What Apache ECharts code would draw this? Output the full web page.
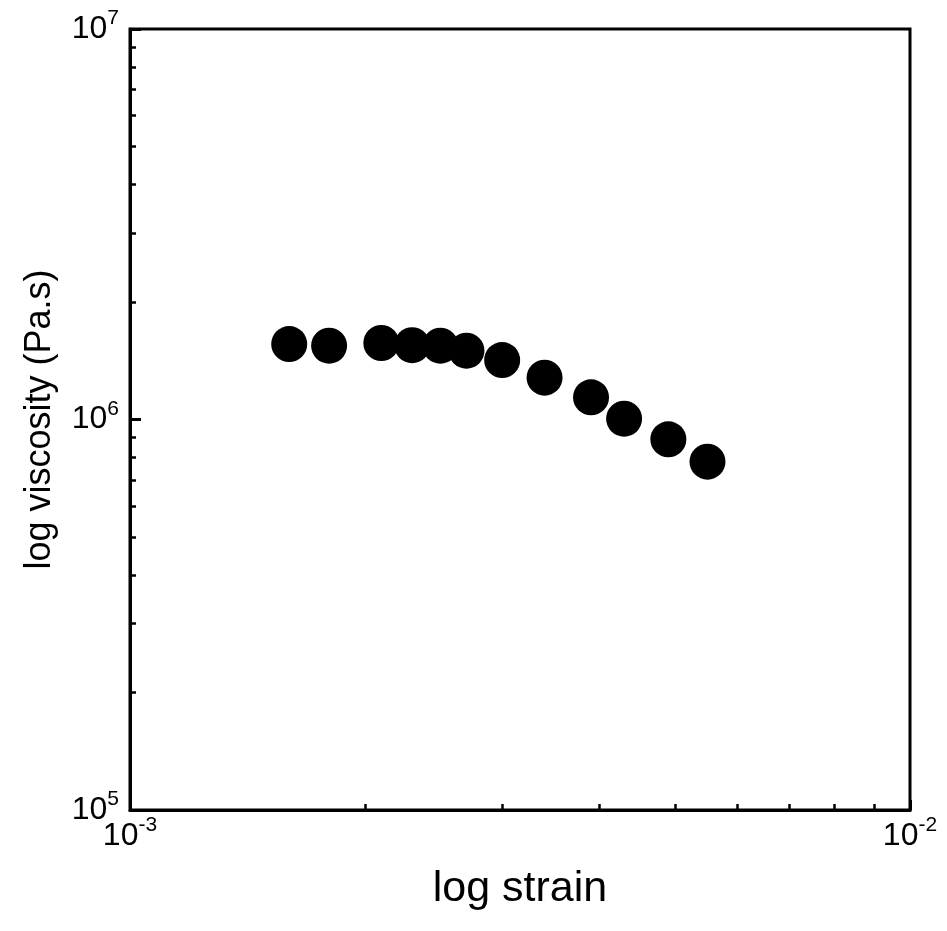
<!DOCTYPE html>
<html>
<head>
<meta charset="utf-8">
<script src="https://cdn.jsdelivr.net/npm/echarts@6/dist/echarts.min.js"></script>
<style>
	html, body { margin: 0; padding: 0; background: #fff; }
	#chart { width: 947px; height: 931px; }
</style>
</head>
<body>
<div id="chart"></div>
<script>
	// strain (x) and viscosity in Pa.s (y)
	let strainList = [0.0016, 0.0018, 0.0021, 0.0023, 0.0025, 0.0027, 0.0030, 0.0034, 0.0039, 0.0043, 0.0049, 0.0055];
	let viscosityList = [1.56e6, 1.545e6, 1.57e6, 1.55e6, 1.545e6, 1.50e6, 1.42e6, 1.28e6, 1.14e6, 1.005e6, 8.9e5, 7.8e5];

	let xMajorTicks = [1e-3, 1e-2];
	let xMinorTicks = [2e-3, 3e-3, 4e-3, 5e-3, 6e-3, 7e-3, 8e-3, 9e-3];
	let yMajorTicks = [1e5, 1e6, 1e7];
	let yMinorTicks = [2e5, 3e5, 4e5, 5e5, 6e5, 7e5, 8e5, 9e5, 2e6, 3e6, 4e6, 5e6, 6e6, 7e6, 8e6, 9e6];

	let points = strainList.map((x, i) => [x, viscosityList[i]]);

	let font = "'Liberation Sans', Arial, Helvetica, sans-serif";

	function powLabel(v) {
		let e = Math.round(Math.log10(v));
		return '{b|10}{s|' + e + '}';
	}
	let richPow = {
		b: { fontSize: 32, lineHeight: 42, color: '#000', fontFamily: font },
		s: { fontSize: 21, lineHeight: 20, verticalAlign: 'top', color: '#000', fontFamily: font }
	};

	let chart = echarts.init(document.getElementById('chart'));
	let option = {
		animation: false,
		backgroundColor: '#fff',
		grid: {
			left: 130,
			right: 37,
			top: 29,
			bottom: 121,
			show: true,
			borderColor: '#000',
			borderWidth: 3
		},
		xAxis: [{
			type: 'log',
			logBase: 10,
			min: 1e-3,
			max: 1e-2,
			name: 'log strain',
			nameLocation: 'middle',
			nameGap: 58,
			nameTextStyle: { fontSize: 43, color: '#000', fontFamily: font },
			axisLine: { show: true, lineStyle: { color: '#000', width: 3 } },
			axisTick: { show: true, inside: true, length: 10, lineStyle: { color: '#000', width: 3 }, customValues: xMajorTicks },
			axisLabel: {
				show: true,
				margin: 5,
				fontSize: 32,
				customValues: xMajorTicks,
				formatter: powLabel,
				rich: richPow
			},
			splitLine: { show: false }
		}, {
			// minor ticks only
			type: 'log',
			logBase: 10,
			min: 1e-3,
			max: 1e-2,
			position: 'bottom',
			axisLine: { show: false },
			axisTick: { show: true, inside: true, length: 6, lineStyle: { color: '#000', width: 2.5 }, customValues: xMinorTicks },
			axisLabel: { show: false },
			splitLine: { show: false }
		}],
		yAxis: [{
			type: 'log',
			logBase: 10,
			min: 1e5,
			max: 1e7,
			name: 'log viscosity (Pa.s)',
			nameLocation: 'middle',
			nameGap: 72,
			nameTextStyle: { fontSize: 36, color: '#000', fontFamily: font },
			axisLine: { show: true, lineStyle: { color: '#000', width: 3 } },
			axisTick: { show: true, inside: true, length: 11, lineStyle: { color: '#000', width: 3 }, customValues: yMajorTicks },
			axisLabel: {
				show: true,
				margin: 11,
				fontSize: 32,
				customValues: yMajorTicks,
				formatter: powLabel,
				rich: richPow
			},
			splitLine: { show: false }
		}, {
			type: 'log',
			logBase: 10,
			min: 1e5,
			max: 1e7,
			position: 'left',
			axisLine: { show: false },
			axisTick: { show: true, inside: true, length: 6, lineStyle: { color: '#000', width: 2.5 }, customValues: yMinorTicks },
			axisLabel: { show: false },
			splitLine: { show: false }
		}],
		series: [{
			type: 'scatter',
			data: points,
			symbol: 'circle',
			symbolSize: 36,
			itemStyle: { color: '#000', opacity: 1 }
		}]
	};
	chart.setOption(option);
	window.addEventListener('resize', function() {
		chart.resize();
	});
</script>
</body>
</html>
